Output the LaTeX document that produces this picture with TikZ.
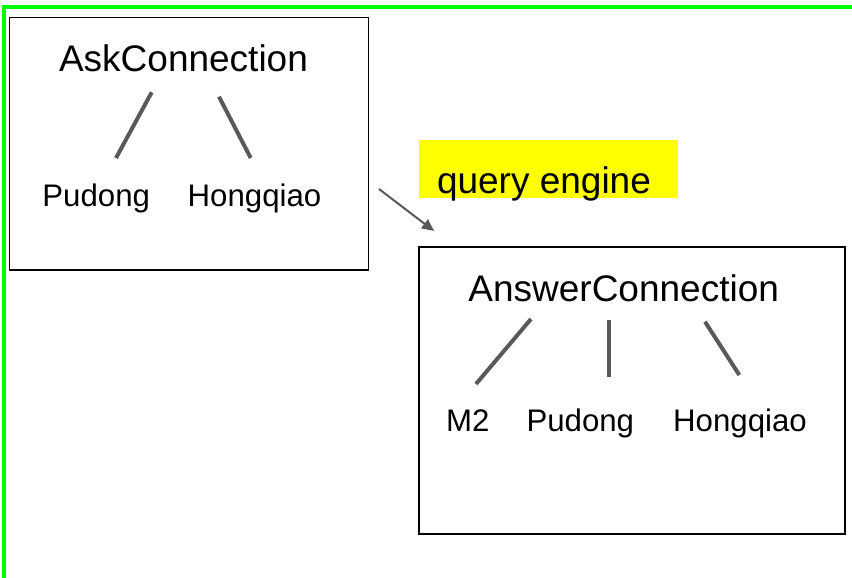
\documentclass[tikz,border=0pt]{standalone}
\usepackage{fontspec}
\setmainfont{Liberation Sans}
\usetikzlibrary{arrows.meta}
\definecolor{frameGreen}{HTML}{00FF00}
\definecolor{linkGray}{HTML}{595959}
\definecolor{hiYellow}{HTML}{FFFF00}
\tikzset{
  big/.style={inner sep=0pt, anchor=base, font=\fontsize{37}{44}\selectfont},
  small/.style={inner sep=0pt, anchor=base, font=\fontsize{31.2}{37}\selectfont},
  panel/.style={draw=black, line width=1.5pt},
  branch/.style={draw=linkGray, line width=4pt},
  flow/.style={draw=linkGray, line width=2pt, -{Triangle[length=12pt, width=11pt]}},
}
\begin{document}
\begin{tikzpicture}[x=1pt, y=-1pt]
  \useasboundingbox (0,0) rectangle (852,578);
  % outer frame (left and top edges only)
  \draw[frameGreen, line width=4pt, line join=miter] (3.8,580) -- (3.8,7) -- (854,7);

  % panels
  \draw[panel] (9.3,17.7) rectangle (368.5,270);
  \draw[panel] (419,247) rectangle (845,534);

  % highlighted label
  \fill[hiYellow] (419,140) rectangle (678,198);
  \node[big] (qe) at (544,193) {query engine};

  % ask side
  \node[big]   (ask)  at (183.5,71.7) {AskConnection};
  \node[small] (pdA)  at (96.2,206.7) {Pudong};
  \node[small] (hqA)  at (254.5,206.7) {Hongqiao};
  \coordinate (a1s) at (151.7,92.3);  \coordinate (a1e) at (116,158);
  \coordinate (a2s) at (219,96.7);    \coordinate (a2e) at (250.7,158);
  \draw[branch] (a1s) -- (a1e);
  \draw[branch] (a2s) -- (a2e);

  % answer side
  \node[big]   (ans)  at (623.7,301.7) {AnswerConnection};
  \node[small] (m2)   at (467.9,431.7) {M2};
  \node[small] (pdB)  at (580.3,431.7) {Pudong};
  \node[small] (hqB)  at (740,431.7) {Hongqiao};
  \coordinate (b1s) at (531,319);    \coordinate (b1e) at (476,384);
  \coordinate (b2s) at (609.3,320);  \coordinate (b2e) at (609.3,376.7);
  \coordinate (b3s) at (705,321.7);  \coordinate (b3e) at (739.3,375);
  \draw[branch] (b1s) -- (b1e);
  \draw[branch] (b2s) -- (b2e);
  \draw[branch] (b3s) -- (b3e);

  % transformation arrow
  \coordinate (fs) at (379,189);
  \coordinate (fe) at (434,231);
  \draw[flow] (fs) -- (fe);
\end{tikzpicture}
\end{document}
